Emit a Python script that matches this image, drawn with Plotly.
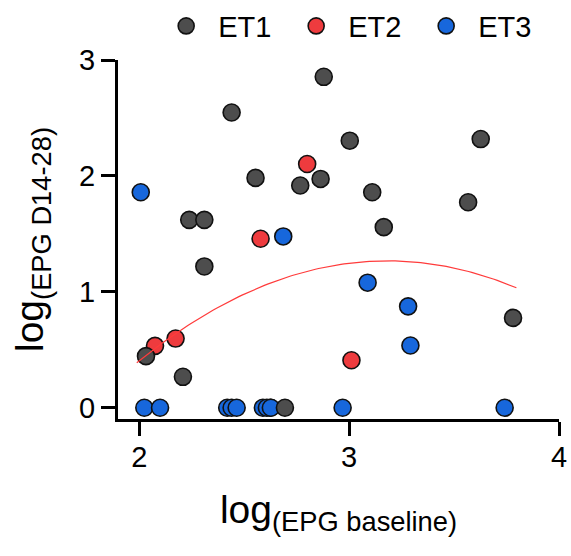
import plotly.graph_objects as go

# ---- data ----
et1_x = [2.032, 2.208, 2.238, 2.310, 2.310, 2.440, 2.554, 2.767, 2.864, 2.879,
         3.003, 3.110, 3.165, 3.567, 3.627, 3.781, 2.694]
et1_y = [0.445, 0.267, 1.621, 1.621, 1.219, 2.547, 1.983, 1.917, 1.974, 2.855,
         2.304, 1.859, 1.558, 1.773, 2.318, 0.775, 0.0]

et2_x = [2.075, 2.173, 2.578, 2.800, 3.011, 2.625]
et2_y = [0.534, 0.597, 1.458, 2.103, 0.410, 0.0]

et3_x = [2.007, 2.686, 3.088, 3.281, 3.292,
         2.024, 2.099, 2.419, 2.440, 2.464, 2.589, 2.608, 2.627, 2.969, 3.741]
et3_y = [1.859, 1.478, 1.079, 0.875, 0.537,
         0.0, 0.0, 0.0, 0.0, 0.0, 0.0, 0.0, 0.0, 0.0, 0.0]

# quadratic fit y = a + b*x + c*x^2 (coefficients)
fit_a, fit_b, fit_c = -4.972, 3.921, -0.616
fit_xmin, fit_xmax = 1.988, 3.797

x_ticks = [2, 3, 4]
y_ticks = [0, 1, 2, 3]

FONT = "Arial, Liberation Sans, sans-serif"

n = 120
fit_x = [fit_xmin + (fit_xmax - fit_xmin) * i / (n - 1) for i in range(n)]
fit_y = [fit_a + fit_b * x + fit_c * x * x for x in fit_x]

mk = dict(size=17, line=dict(color="#111111", width=1.6))

fig = go.Figure()
fig.add_trace(go.Scatter(x=et2_x, y=et2_y, mode="markers", name="ET2", legendrank=2,
                         marker=dict(color="#EE3B3E", **mk)))
fig.add_trace(go.Scatter(x=et3_x, y=et3_y, mode="markers", name="ET3", legendrank=3,
                         marker=dict(color="#1767DC", **mk)))
fig.add_trace(go.Scatter(x=et1_x, y=et1_y, mode="markers", name="ET1", legendrank=1,
                         marker=dict(color="#4D4D4D", **mk)))
fig.add_trace(go.Scatter(x=fit_x, y=fit_y, mode="lines", showlegend=False,
                         line=dict(color="#FF3B3B", width=1.2)))

axis_common = dict(showgrid=False, zeroline=False, showline=True, linecolor="black",
                   linewidth=3, ticks="outside", ticklen=14, tickwidth=3, tickcolor="black",
                   automargin=False,
                   tickfont=dict(family=FONT, size=29, color="black"))

fig.update_layout(
    width=571, height=556,
    margin=dict(l=118, r=12, t=60, b=137),
    paper_bgcolor="white", plot_bgcolor="white",
    font=dict(family=FONT, color="black"),
    xaxis=dict(range=[1.8986, 4.0], tickvals=x_ticks, ticktext=[str(v) for v in x_ticks],
               ticklabelstandoff=-4,
               title=dict(text="log<sub>(EPG baseline)</sub>", font=dict(size=39), standoff=24),
               **axis_common),
    yaxis=dict(range=[-0.097, 3.0], tickvals=y_ticks, ticktext=[str(v) for v in y_ticks],
               title=dict(text="log<sub>(EPG D14-28)</sub>", font=dict(size=39), standoff=24),
               **axis_common),
    legend=dict(orientation="h", xref="container", yref="container", x=0.27, y=0.999,
                xanchor="left", yanchor="top", font=dict(family=FONT, size=29),
                itemwidth=54, entrywidth=61, traceorder="normal", bgcolor="rgba(0,0,0,0)"),
    showlegend=True,
)

fig.write_html("out.html")
